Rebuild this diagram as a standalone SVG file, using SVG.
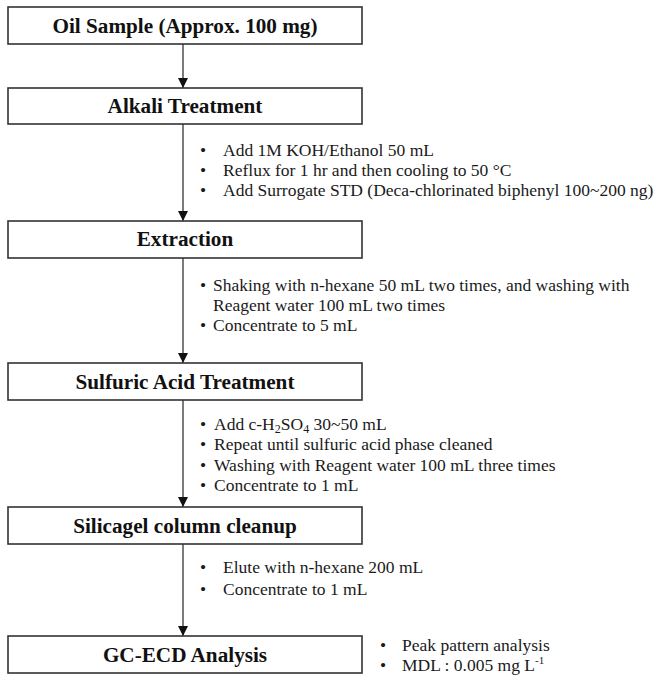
<svg xmlns="http://www.w3.org/2000/svg" width="659" height="680" viewBox="0 0 659 680">
<style>
.box{fill:#fff;stroke:#333;stroke-width:1.6}
.lbl{font-family:"Liberation Serif","Times New Roman",serif;font-weight:bold;font-size:21.2px;fill:#111;text-anchor:middle}
.t{font-family:"Liberation Serif","Times New Roman",serif;font-size:17.5px;fill:#1a1a1a}
.edge{stroke:#333;stroke-width:1.3;fill:none}
</style>
<defs>
<marker id="ah" markerWidth="10" markerHeight="10" refX="10" refY="5" orient="auto" markerUnits="userSpaceOnUse">
<path d="M0,0 L10,5 L0,10 Z" fill="#111"/>
</marker>
</defs>
<rect width="659" height="680" fill="#fff"/>
<g id="connectors">
<line class="edge" x1="183" y1="44" x2="183" y2="88" marker-end="url(#ah)"/>
<line class="edge" x1="183" y1="124" x2="183" y2="221" marker-end="url(#ah)"/>
<line class="edge" x1="183" y1="258" x2="183" y2="363" marker-end="url(#ah)"/>
<line class="edge" x1="183" y1="400" x2="183" y2="507" marker-end="url(#ah)"/>
<line class="edge" x1="183" y1="544" x2="183" y2="636" marker-end="url(#ah)"/>
</g>
<g id="oil">
<rect class="box" x="8" y="7" width="354" height="37"/>
<text class="lbl" x="185" y="33">Oil Sample (Approx. 100 mg)</text>
</g>
<g id="alkali">
<rect class="box" x="8" y="88" width="354" height="36"/>
<text class="lbl" x="185" y="113">Alkali Treatment</text>
</g>
<g id="alkali-notes">
<text class="t" x="200" y="156">•</text><text class="t" x="223" y="156">Add 1M KOH/Ethanol 50 mL</text>
<text class="t" x="200" y="176">•</text><text class="t" x="223" y="176">Reflux for 1 hr and then cooling to 50 °C</text>
<text class="t" x="200" y="196">•</text><text class="t" x="223" y="196">Add Surrogate STD (Deca-chlorinated biphenyl 100~200 ng)</text>
</g>
<g id="extraction">
<rect class="box" x="8" y="221" width="354" height="37"/>
<text class="lbl" x="185" y="246">Extraction</text>
</g>
<g id="extraction-notes">
<text class="t" x="200" y="291">•</text><text class="t" x="213" y="291">Shaking with n-hexane 50 mL two times, and washing with</text>
<text class="t" x="213" y="311">Reagent water 100 mL two times</text>
<text class="t" x="200" y="331">•</text><text class="t" x="213" y="331">Concentrate to 5 mL</text>
</g>
<g id="sulfuric">
<rect class="box" x="8" y="363" width="354" height="37"/>
<text class="lbl" x="185" y="388.5">Sulfuric Acid Treatment</text>
</g>
<g id="sulfuric-notes">
<text class="t" x="200" y="430">•</text><text class="t" x="214" y="430">Add c-H<tspan font-size="12" baseline-shift="-3">2</tspan>SO<tspan font-size="12" baseline-shift="-3">4</tspan> 30~50 mL</text>
<text class="t" x="200" y="450">•</text><text class="t" x="214" y="450">Repeat until sulfuric acid phase cleaned</text>
<text class="t" x="200" y="471">•</text><text class="t" x="214" y="471">Washing with Reagent water 100 mL three times</text>
<text class="t" x="200" y="491">•</text><text class="t" x="214" y="491">Concentrate to 1 mL</text>
</g>
<g id="silicagel">
<rect class="box" x="8" y="507" width="354" height="37"/>
<text class="lbl" x="185" y="532.5">Silicagel column cleanup</text>
</g>
<g id="silicagel-notes">
<text class="t" x="200" y="573">•</text><text class="t" x="223" y="573">Elute with n-hexane 200 mL</text>
<text class="t" x="200" y="595">•</text><text class="t" x="223" y="595">Concentrate to 1 mL</text>
</g>
<g id="gcecd">
<rect class="box" x="8" y="636" width="354" height="37"/>
<text class="lbl" x="185" y="661.5">GC-ECD Analysis</text>
</g>
<g id="gcecd-notes">
<text class="t" x="380" y="651">•</text><text class="t" x="402" y="651">Peak pattern analysis</text>
<text class="t" x="380" y="671">•</text><text class="t" x="402" y="671">MDL : 0.005 mg L<tspan font-size="11" baseline-shift="7">-1</tspan></text>
</g>
</svg>
